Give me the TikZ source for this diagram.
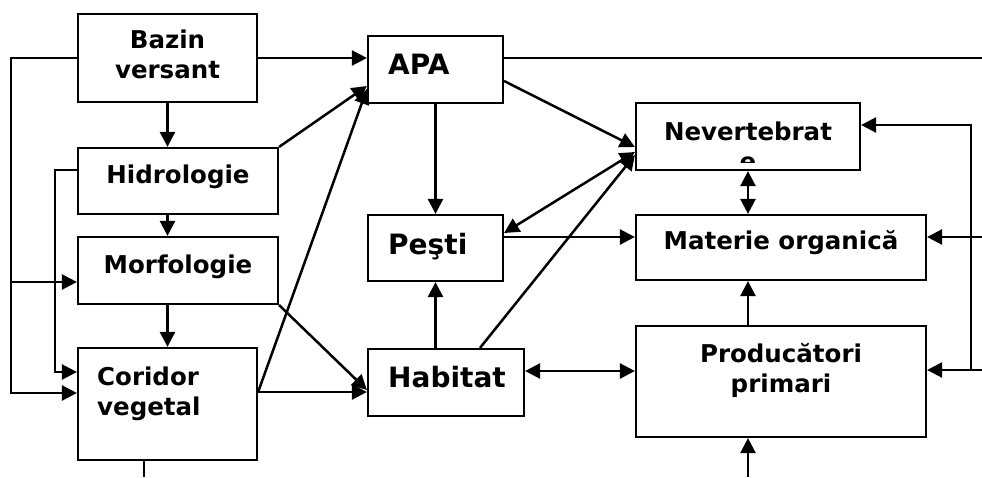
\documentclass[tikz,border=0pt]{standalone}
\usepackage{fontspec}
\setmainfont{DejaVu Sans}
\usetikzlibrary{arrows.meta}

\tikzset{
  box/.style={draw, line width=2.2pt, rectangle, inner sep=0pt},
  lbl/.style={inner sep=0pt, font=\bfseries\fontsize{24.5}{29.5}\selectfont},
  biglbl/.style={inner sep=0pt, font=\bfseries\fontsize{28}{33}\selectfont},
  conn/.style={line width=2.5pt},
  arr/.style={conn, -{Triangle[length=15pt,width=15pt]}},
  dblarr/.style={conn, {Triangle[length=15pt,width=15pt]}-{Triangle[length=15pt,width=15pt]}}
}

\begin{document}
\begin{tikzpicture}[x=1pt, y=-1pt]
\useasboundingbox (0,0) rectangle (982,477);

% ---- boxes ----
\node[box, minimum width=179pt, minimum height=88pt]  (bazin)   at (167.5,58)  {};
\node[box, minimum width=200pt, minimum height=66pt]  (hidro)   at (178,181)   {};
\node[box, minimum width=200pt, minimum height=67pt]  (morf)    at (178,270.5) {};
\node[box, minimum width=179pt, minimum height=112pt] (coridor) at (167.5,404) {};
\node[box, minimum width=135pt, minimum height=67pt]  (apa)     at (435.5,69.5){};
\node[box, minimum width=135pt, minimum height=66pt]  (pesti)   at (435.5,248) {};
\node[box, minimum width=156pt, minimum height=67pt]  (habitat) at (446,382.5) {};
\node[box, minimum width=224pt, minimum height=67pt]  (nev)     at (748,136.5) {};
\node[box, minimum width=290pt, minimum height=65pt]  (mat)     at (781,247.5) {};
\node[box, minimum width=290pt, minimum height=111pt] (prod)    at (781,381.5) {};

% ---- labels (base anchor of a two-line label sits on its last line) ----
\node[lbl, align=center, anchor=base] (bazin-t) at (167.5,78) {Bazin\\versant};
\node[lbl, anchor=base] (hidro-t) at (178,183) {Hidrologie};
\node[lbl, anchor=base] (morf-t) at (178,273) {Morfologie};
\node[lbl, align=left, anchor=base west] (coridor-t) at (97,415) {Coridor\\vegetal};
\node[biglbl, anchor=base west] (apa-t) at (388,74) {APA};
\node[biglbl, anchor=base west] (pesti-t) at (388,254) {Peşti};
\node[biglbl, anchor=base west] (habitat-t) at (388,387) {Habitat};
\node[lbl, anchor=base] (mat-t) at (781,249) {Materie organică};
\node[lbl, align=center, anchor=base] (prod-t) at (781,392) {Producători\\primari};
% the wrapped last letter of this label is cut off by the text frame
\begin{scope}
  \clip ([xshift=1.1pt,yshift=-1.1pt]nev.north west) rectangle (nev.east |- 0,162);
  \node[lbl, align=center, anchor=base, font=\bfseries\fontsize{24.5}{30.5}\selectfont] (nev-t) at (748,170.5) {Nevertebrat\\e};
\end{scope}

% ---- left bus lines ----
\coordinate (lt) at (11,58);
\coordinate (lm) at (11,282);
\coordinate (lb) at (11,393);
\draw[arr] (bazin.west) -- (lt) -- (lb) -- (coridor.west |- lb);
\draw[arr] (lm) -- (morf.west |- lm);
\coordinate (ht) at (55,170);
\coordinate (hb) at (55,372);
\draw[arr] (hidro.west |- ht) -- (ht) -- (hb) -- (coridor.west |- hb);

% ---- vertical chain on the left ----
\draw[arr] (bazin.south) -- (bazin.south |- hidro.north);
\draw[arr] (bazin.south |- hidro.south) -- (bazin.south |- morf.north);
\draw[arr] (bazin.south |- morf.south) -- (coridor.north);
\coordinate (cb) at (144,477);
\draw[conn] (coridor.south -| cb) -- (cb);

% ---- into APA and Habitat ----
\draw[arr] (bazin.east) -- (apa.west |- bazin.east);
\draw[arr] (hidro.north east) -- (apa.west |- 0,86);
\draw[arr] (coridor.east |- 0,392) -- (apa.west |- 0,89);
\draw[arr] (morf.south east) -- (habitat.west |- 0,390);
\draw[arr] (coridor.east |- 0,392) -- (habitat.west |- 0,392);

% ---- middle column ----
\draw[arr] (apa.south) -- (pesti.north);
\draw[arr] (habitat.north -| pesti.north) -- (pesti.south);
\draw[arr] (apa.east |- 0,81) -- (nev.west |- 0,147);
\draw[dblarr] (pesti.east |- 0,233) -- (nev.west |- 0,152);
\draw[arr] ([xshift=34pt]habitat.north) -- (nev.west |- 0,155);
\draw[arr] (pesti.east |- 0,237) -- (mat.west |- 0,237);
\draw[dblarr] (habitat.east |- 0,371) -- (prod.west |- 0,371);

% ---- right column ----
\draw[dblarr] (nev.south) -- (mat.north -| nev.south);
\draw[arr] (prod.north -| nev.south) -- (mat.south -| nev.south);
\coordinate (pb) at (748,477);
\draw[arr] (pb) -- (prod.south -| pb);

% ---- right-hand feedback lines ----
\coordinate (rt) at (982,58);
\draw[conn] (apa.east |- rt) -- (rt);
\coordinate (rbt) at (971,125);
\coordinate (rbb) at (971,370);
\draw[arr] (rbb) -- (rbt) -- (nev.east |- rbt);
\coordinate (rm) at (982,237);
\draw[arr] (rm) -- (mat.east |- rm);
\coordinate (rp) at (982,370);
\draw[arr] (rp) -- (prod.east |- rp);
\end{tikzpicture}
\end{document}
